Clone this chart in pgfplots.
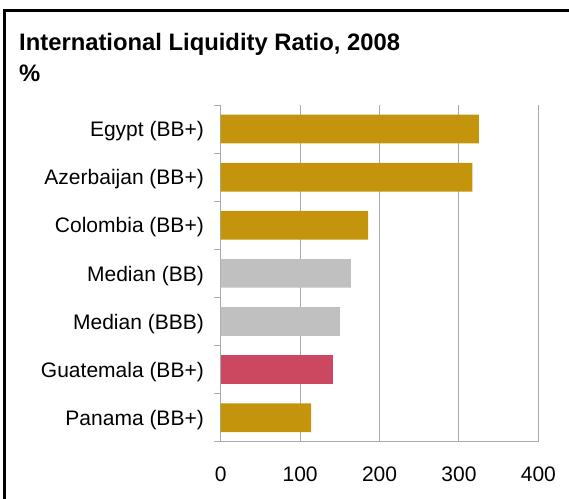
\documentclass[border=0pt]{standalone}
\usepackage{fontspec}
\setmainfont{Liberation Sans}
\usepackage{pgfplots}
\pgfplotsset{compat=1.18}
\definecolor{gold}{RGB}{196,149,12}
\definecolor{medgray}{RGB}{192,192,192}
\definecolor{rose}{RGB}{204,72,96}
\definecolor{gridgray}{RGB}{170,170,170}
\begin{document}
\begin{tikzpicture}
\useasboundingbox (0,0) rectangle (569bp,-499bp);
\draw[line width=3bp] (4.3bp,-600bp) -- (4.3bp,-10.7bp) -- (700bp,-10.7bp);
\node[anchor=base west, inner sep=0pt, font=\fontsize{23.8bp}{28bp}\selectfont\bfseries] at (19bp,-50bp) {International Liquidity Ratio, 2008};
\node[anchor=base west, inner sep=0pt, font=\fontsize{23.8bp}{28bp}\selectfont\bfseries] at (19bp,-81bp) {\%};
\begin{axis}[
  at={(220.7bp,-441.7bp)}, anchor=south west,
  scale only axis, width=317.7bp, height=336.7bp,
  xbar, bar width=28.7bp,
  xmin=0, xmax=400, ymin=-0.5, ymax=6.5,
  xtick={0,100,...,400},
  ytick={0,...,6},
  yticklabels={Panama (BB+), Guatemala (BB+), Median (BBB), Median (BB), Colombia (BB+), Azerbaijan (BB+), Egypt (BB+)},
  minor ytick={-0.5,0.5,...,6.5},
  xmajorgrids, major grid style={gridgray, line width=1bp},
  axis x line*=bottom, axis y line*=left,
  axis line style={gridgray, line width=1bp, -},
  x axis line style={shorten <=-6.5bp},
  major tick length=0pt, minor tick length=6.5bp, tick align=outside,
  tick style={gridgray, line width=1bp},
  /pgf/number format/assume math mode=true,
  tick label style={font=\fontsize{21bp}{25bp}\selectfont},
  xticklabel style={anchor=base, inner sep=0pt, yshift=-39.3bp},
  yticklabel style={anchor=base east, inner sep=0pt, xshift=-16.7bp, yshift=-7.7bp},
]
\addplot[draw=none, fill=gold, bar shift=0pt] coordinates {(325,6) (317,5) (185.5,4) (114,0)};
\addplot[draw=none, fill=medgray, bar shift=0pt] coordinates {(164,3) (150,2)};
\addplot[draw=none, fill=rose, bar shift=0pt] coordinates {(141.5,1)};
\end{axis}
\end{tikzpicture}
\end{document}
